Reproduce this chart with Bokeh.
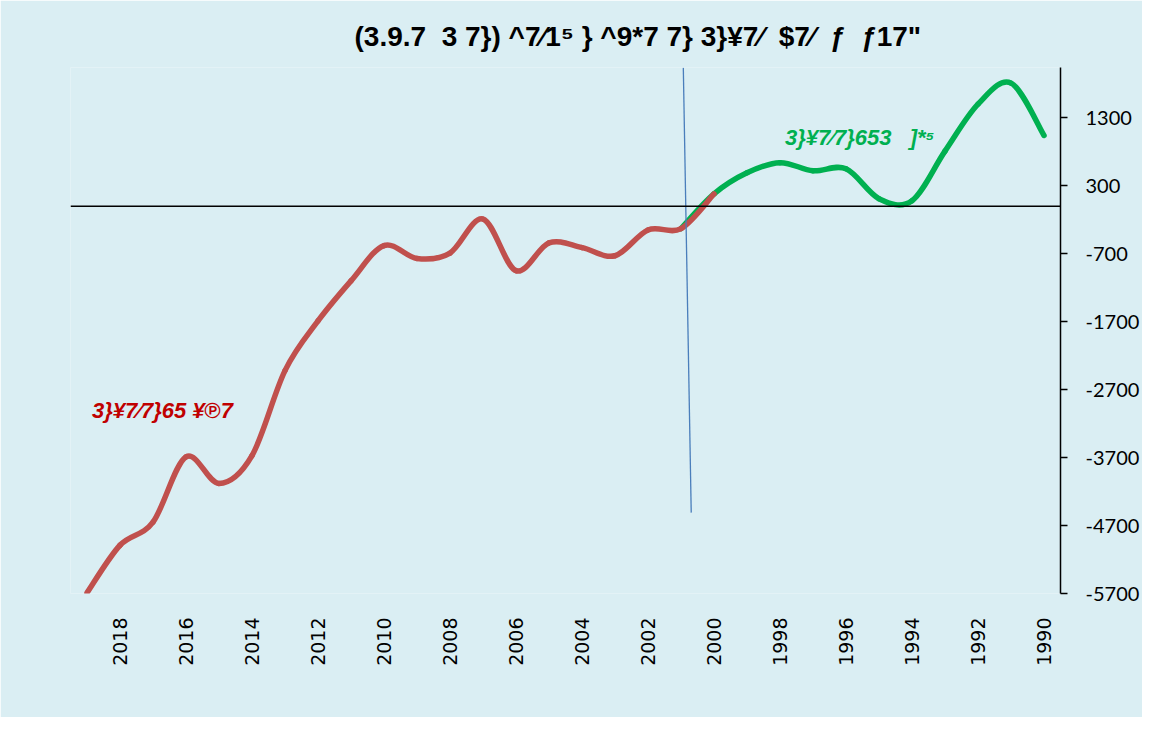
import math
from bokeh.plotting import figure
from bokeh.models import Range1d, FixedTicker, Span, Label, CustomJSTickFormatter
from bokeh.embed import file_html
from bokeh.resources import INLINE

# ---- data ----
red_years = [2019, 2018, 2017, 2016, 2015, 2014, 2013, 2012, 2011, 2010,
             2009, 2008, 2007, 2006, 2005, 2004, 2003, 2002, 2001, 2000]
red_values = [-5690, -4990, -4650, -3690, -4080, -3670, -2420, -1690, -1100, -580,
              -770, -690, -190, -950, -540, -610, -730, -350, -330, 180]

green_years = [2001, 2000, 1999, 1998, 1997, 1996, 1995, 1994, 1993, 1992, 1991, 1990]
green_values = [-330, 180, 490, 640, 520, 550, 110, 80, 810, 1500, 1810, 1040]

x_tick_years = list(range(2018, 1989, -2))
y_ticks = [1300, 300, -700, -1700, -2700, -3700, -4700, -5700]

NB = "\u00a0"
title_text = ("(3.9.7" + NB * 2 + "3" + NB + "7}) ^7\u20441\u2075 } ^9*7 7} 3}\u00a57\u2044" + NB * 2
              + "$7\u2044" + NB * 2 + "\u0192" + NB * 2 + "\u019217\"")
green_label = "3}\u00a57\u20447}653" + NB * 3 + "]*\u2075"
red_label = "3}\u00a57\u20447}65 \u00a5\u21177"

BG = "#DAEEF3"
RED = "#C0504D"
GREEN = "#00B050"

p = figure(width=1142, height=717, output_backend="svg", toolbar_location=None,
           x_range=Range1d(2019.5, 1989.5), y_range=Range1d(-5700, 2040),
           min_border_left=70, min_border_right=80, min_border_top=67,
           min_border_bottom=124, y_axis_location="right")
p.background_fill_color = BG
p.border_fill_color = BG
p.outline_line_color = None
p.xgrid.visible = False
p.ygrid.visible = False

p.title.text = title_text
p.title.align = "left"
p.title.offset = 284
p.title.text_font = "Liberation Sans"
p.title.text_font_style = "bold"
p.title.text_font_size = "28px"
p.title.text_color = "#000000"
p.title.standoff = 32

# x axis (labels only)
xa = p.xaxis[0]
xa.ticker = FixedTicker(ticks=x_tick_years)
xa.axis_line_color = None
xa.major_tick_line_color = None
xa.minor_tick_line_color = None
xa.major_label_orientation = math.pi / 2
xa.major_label_text_font = "DejaVu Sans"
xa.major_label_text_font_size = "19px"
xa.major_label_text_color = "#000000"
xa.major_label_standoff = 18
xa.formatter = CustomJSTickFormatter(code="return String(Math.round(tick));")

# y axis on the right
ya = p.yaxis[0]
ya.ticker = FixedTicker(ticks=y_ticks)
ya.axis_line_color = "#000000"
ya.axis_line_width = 1.5
ya.major_tick_in = 0
ya.major_tick_out = 7
ya.major_tick_line_color = "#000000"
ya.major_tick_line_width = 1.5
ya.minor_tick_line_color = None
ya.major_label_text_font = "Lato"
ya.major_label_text_font_size = "20px"
ya.major_label_text_color = "#000000"
ya.major_label_standoff = 18
ya.formatter = CustomJSTickFormatter(code="return String(Math.round(tick));")

# horizontal zero line
p.add_layout(Span(location=0, dimension="width", line_color="#000000", line_width=1.5))


def smooth(xs, ys):
    n = len(xs)
    x0, y0, x1, y1, cx0, cy0, cx1, cy1 = [], [], [], [], [], [], [], []
    for i in range(n - 1):
        im = max(i - 1, 0)
        ip2 = min(i + 2, n - 1)
        x0.append(xs[i]); y0.append(ys[i])
        x1.append(xs[i + 1]); y1.append(ys[i + 1])
        cx0.append(xs[i] + (xs[i + 1] - xs[im]) / 6.0)
        cy0.append(ys[i] + (ys[i + 1] - ys[im]) / 6.0)
        cx1.append(xs[i + 1] - (xs[ip2] - xs[i]) / 6.0)
        cy1.append(ys[i + 1] - (ys[ip2] - ys[i]) / 6.0)
    return dict(x0=x0, y0=y0, x1=x1, y1=y1, cx0=cx0, cy0=cy0, cx1=cx1, cy1=cy1)


g = smooth(green_years, green_values)
p.bezier(x0=g["x0"], y0=g["y0"], x1=g["x1"], y1=g["y1"], cx0=g["cx0"], cy0=g["cy0"],
         cx1=g["cx1"], cy1=g["cy1"], line_color=GREEN, line_width=5.5, line_cap="round")
r = smooth(red_years, red_values)
p.bezier(x0=r["x0"], y0=r["y0"], x1=r["x1"], y1=r["y1"], cx0=r["cx0"], cy0=r["cy0"],
         cx1=r["cx1"], cy1=r["cy1"], line_color=RED, line_width=5.5, line_cap="round")

# slanted blue divider line
p.segment(x0=[2000.93], y0=[2035], x1=[2000.69], y1=[-4510], line_color="#4A7EBB", line_width=1.3)

# labels
p.add_layout(Label(x=1997.85, y=1006, text=green_label, text_align="left", text_baseline="middle",
                   text_font="Liberation Sans", text_font_style="bold italic", text_font_size="22px",
                   text_color=GREEN))
p.add_layout(Label(x=2018.85, y=-3009, text=red_label, text_align="left", text_baseline="middle",
                   text_font="Liberation Sans", text_font_style="bold italic", text_font_size="22px",
                   text_color="#C00000"))

open("out.html", "w").write(file_html(p, INLINE))
